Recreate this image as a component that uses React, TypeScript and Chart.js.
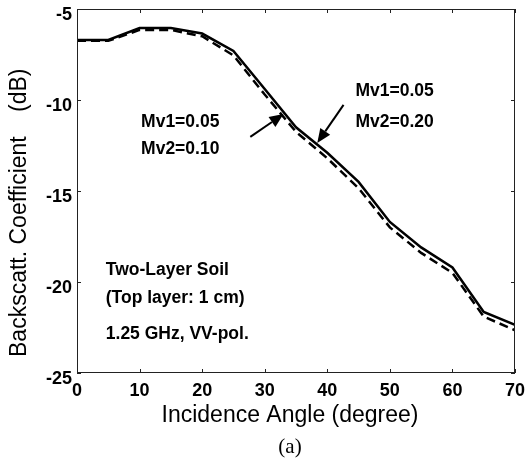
import React, { useEffect, useRef } from "react";
import { Chart, registerables } from "chart.js";

Chart.register(...registerables);

const angles = [0, 5, 10, 15, 20, 25, 30, 35, 40, 45, 50, 55, 60, 65, 70];
const mv2_020 = [-6.7, -6.7, -6.05, -6.05, -6.35, -7.3, -9.4, -11.5, -12.9, -14.5, -16.7, -18.1, -19.2, -21.65, -22.35];
const mv2_010 = [-6.75, -6.75, -6.15, -6.15, -6.5, -7.55, -9.7, -11.75, -13.2, -14.85, -17.0, -18.4, -19.5, -21.9, -22.65];

const xTicks = [0, 10, 20, 30, 40, 50, 60, 70];
const yTicks = [-25, -20, -15, -10, -5];

// annotation texts: [text, x(deg), y(dB)]
const labelTexts: [string, number, number][] = [
  ["Mv1=0.05", 10.24, -11.2],
  ["Mv2=0.10", 10.24, -12.7],
  ["Mv1=0.05", 44.5, -9.5],
  ["Mv2=0.20", 44.5, -11.2],
  ["Two-Layer Soil", 4.6, -19.35],
  ["(Top layer: 1 cm)", 4.6, -20.9],
  ["1.25 GHz, VV-pol.", 4.6, -22.85],
];
// arrows: [tailX, tailY, headX, headY] in data units
const arrows: [number, number, number, number][] = [
  [27.7, -12.03, 33.0, -10.77],
  [42.6, -10.27, 38.4, -12.36],
];

const FONT = "'Liberation Sans', Arial, sans-serif";

const framePlugin = {
  id: "framePlugin",
  afterDraw(chart: any) {
    const { ctx, chartArea: a, scales } = chart;
    const xs = scales.x, ys = scales.y;
    ctx.save();
    ctx.strokeStyle = "#222";
    ctx.lineWidth = 1;
    ctx.strokeRect(a.left + 0.5, a.top + 0.5, a.right - a.left - 1, a.bottom - a.top - 1);
    ctx.beginPath();
    const tl = 4;
    xTicks.forEach((v) => {
      const px = Math.round(xs.getPixelForValue(v)) + 0.5;
      ctx.moveTo(px, a.bottom); ctx.lineTo(px, a.bottom - tl);
      ctx.moveTo(px, a.top); ctx.lineTo(px, a.top + tl);
    });
    yTicks.forEach((v) => {
      const py = Math.round(ys.getPixelForValue(v)) + 0.5;
      ctx.moveTo(a.left, py); ctx.lineTo(a.left + tl, py);
      ctx.moveTo(a.right, py); ctx.lineTo(a.right - tl, py);
    });
    ctx.stroke();

    // annotations
    ctx.fillStyle = "#000";
    ctx.font = `bold 17.5px ${FONT}`;
    ctx.textBaseline = "middle";
    ctx.textAlign = "left";
    labelTexts.forEach(([t, x, y]) => {
      ctx.fillText(t, xs.getPixelForValue(x), ys.getPixelForValue(y));
    });
    ctx.strokeStyle = "#000";
    ctx.lineWidth = 2;
    arrows.forEach(([x1, y1, x2, y2]) => {
      const ax = xs.getPixelForValue(x1), ay = ys.getPixelForValue(y1);
      const bx = xs.getPixelForValue(x2), by = ys.getPixelForValue(y2);
      const ang = Math.atan2(by - ay, bx - ax);
      const hl = 14, hw = 6;
      const baseX = bx - hl * Math.cos(ang), baseY = by - hl * Math.sin(ang);
      ctx.beginPath();
      ctx.moveTo(ax, ay); ctx.lineTo(baseX, baseY);
      ctx.stroke();
      ctx.beginPath();
      ctx.moveTo(bx, by);
      ctx.lineTo(baseX + hw * Math.sin(ang), baseY - hw * Math.cos(ang));
      ctx.lineTo(baseX - hw * Math.sin(ang), baseY + hw * Math.cos(ang));
      ctx.closePath();
      ctx.fill();
    });

    // axis titles
    ctx.font = `23px ${FONT}`;
    ctx.textAlign = "center";
    ctx.textBaseline = "middle";
    ctx.fillText("Incidence Angle (degree)", 290, 416);
    ctx.font = `21px 'Liberation Serif', 'Times New Roman', serif`;
    ctx.fillText("(a)", 290, 447);
    ctx.save();
    ctx.translate(20, 0);
    ctx.rotate(-Math.PI / 2);
    ctx.font = `23px ${FONT}`;
    ctx.textAlign = "left";
    ctx.fillText("Backscatt. Coefficient", -357, 0);
    ctx.fillText("(dB)", -112, 0);
    ctx.restore();
    ctx.restore();
  },
};

export default function App() {
  const ref = useRef<HTMLCanvasElement>(null);
  useEffect(() => {
    if (!ref.current) return;
    const chart = new Chart(ref.current, {
      type: "line",
      data: {
        labels: angles,
        datasets: [
          {
            label: "Mv1=0.05, Mv2=0.20",
            data: angles.map((a, i) => ({ x: a, y: mv2_020[i] })),
            borderColor: "#000",
            borderWidth: 2.5,
            pointRadius: 0,
            tension: 0,
          },
          {
            label: "Mv1=0.05, Mv2=0.10",
            data: angles.map((a, i) => ({ x: a, y: mv2_010[i] })),
            borderColor: "#000",
            borderWidth: 2.5,
            borderDash: [9, 5],
            pointRadius: 0,
            tension: 0,
          },
        ],
      },
      options: {
        responsive: false,
        animation: false,
        layout: { padding: { top: 9, right: 10, left: 0, bottom: 0 } },
        plugins: { legend: { display: false }, tooltip: { enabled: false } },
        scales: {
          x: {
            type: "linear",
            min: 0,
            max: 70,
            afterBuildTicks: (s: any) => { s.ticks = xTicks.map((v) => ({ value: v })); },
            afterFit: (s: any) => { s.height = 89; s.paddingLeft = 0; s.paddingRight = 0; },
            grid: { display: false, drawTicks: false },
            border: { display: false },
            ticks: { color: "#000", padding: 7, font: { family: FONT, size: 18, weight: "bold" }, maxRotation: 0 },
          },
          y: {
            type: "linear",
            min: -25,
            max: -5,
            afterBuildTicks: (s: any) => { s.ticks = yTicks.map((v) => ({ value: v })); },
            afterFit: (s: any) => { s.width = 77; s.paddingTop = 0; s.paddingBottom = 0; },
            grid: { display: false, drawTicks: false },
            border: { display: false },
            ticks: { color: "#000", padding: 5, labelOffset: 6, font: { family: FONT, size: 18, weight: "bold" } },
          },
        },
      },
      plugins: [framePlugin],
    });
    return () => chart.destroy();
  }, []);
  return (
    <div style={{ position: "fixed", left: 0, top: 0, width: 525, height: 462, background: "#fff" }}>
      <canvas ref={ref} width={525} height={462} style={{ display: "block" }} />
    </div>
  );
}
